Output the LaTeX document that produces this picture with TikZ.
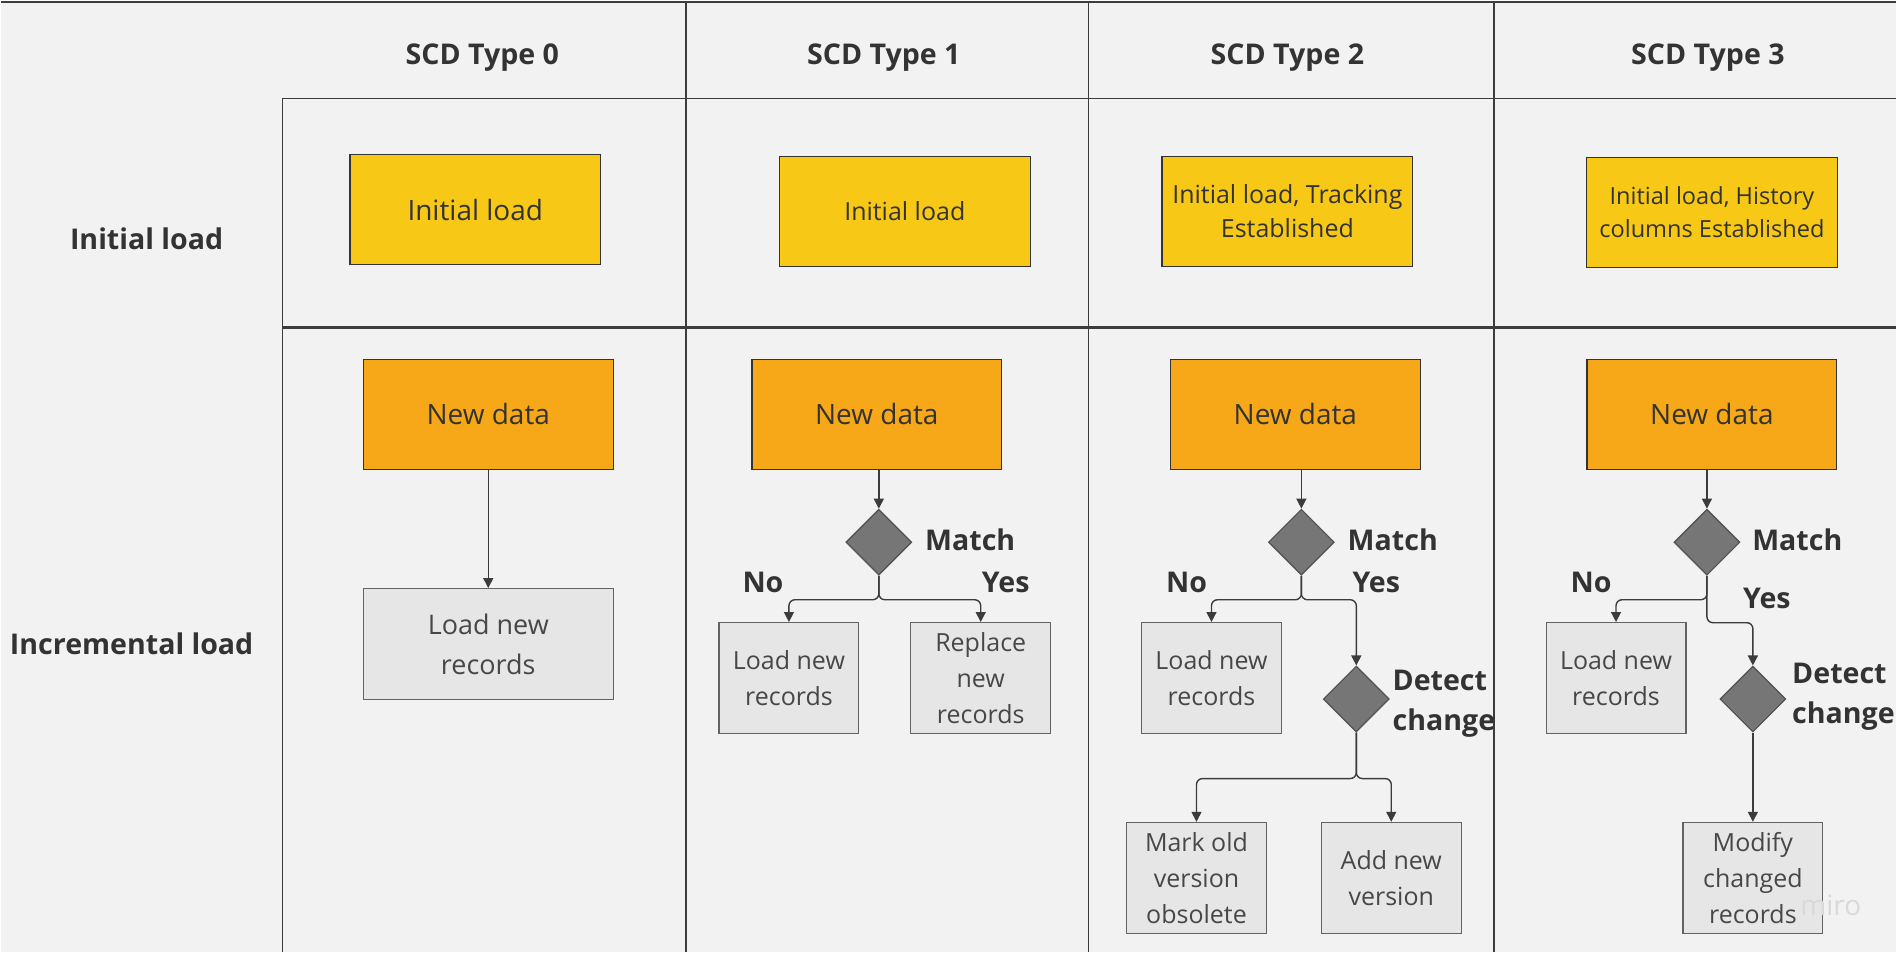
\documentclass[tikz,border=0pt]{standalone}
\usepackage{fontspec}
\setmainfont{Open Sans}
\usetikzlibrary{arrows.meta,shapes.geometric}
\definecolor{bg}{HTML}{F2F2F2}
\definecolor{gridline}{HTML}{3C3C3C}
\definecolor{ink}{HTML}{333333}
\definecolor{initfill}{HTML}{F8C816}
\definecolor{newfill}{HTML}{F7A818}
\definecolor{taskfill}{HTML}{E6E6E6}
\definecolor{diafill}{HTML}{767676}
\begin{document}
\begin{tikzpicture}[x=0.5pt, y=-0.5pt,
  grid/.style={draw=gridline, line width=0.8pt},
  head/.style={font=\fontsize{14.3pt}{20pt}\selectfont\bfseries, text=ink},
  initbox/.style={draw=ink, line width=0.6pt, fill=initfill, minimum width=125.5pt, minimum height=55pt, inner sep=1pt, align=center, text=ink, font=\fontsize{12.5pt}{17pt}\selectfont},
  newbox/.style={draw=ink, line width=0.6pt, fill=newfill, minimum width=125pt, minimum height=55pt, text=ink, font=\fontsize{14pt}{19pt}\selectfont},
  taskbox/.style={draw=gridline!80, line width=0.6pt, fill=taskfill, minimum width=70pt, minimum height=55.5pt, inner sep=1pt, align=center, text=ink!90, font=\fontsize{12.5pt}{18pt}\selectfont},
  decision/.style={diamond, draw=gridline!90, line width=0.6pt, fill=diafill, minimum width=33pt, minimum height=33pt, inner sep=0pt},
  lbl/.style={head, inner sep=0pt, align=left},
  flow/.style={draw=gridline, line width=0.7pt, rounded corners=3pt, -{Triangle[length=5pt, width=5pt]}}]

\path[fill=bg] (0,0) rectangle (1897,952);

% table
\draw[grid] (0,1) -- (1897,1);
\draw[grid] (282,98) -- (1897,98);
\draw[grid, line width=1.3pt] (282,327) -- (1897,327);
\draw[grid] (282,98) -- (282,952);
\foreach \x in {686,1089,1495}
  \draw[grid] (\x,0) -- (\x,952);

\node[head] (h0) at (482,57) {SCD Type 0};
\node[head] (h1) at (884,57) {SCD Type 1};
\node[head] (h2) at (1288,57) {SCD Type 2};
\node[head] (h3) at (1709,57) {SCD Type 3};
\node[head] (rowinit) at (146,238) {Initial load};
\node[head] (rowinc) at (131,644) {Incremental load};

% initial load
\node[initbox, font=\fontsize{14pt}{19pt}\selectfont] (i0) at (475,209) {Initial load};
\node[initbox] (i1) at (905,211) {Initial load};
\node[initbox] (i2) at (1288,211) {Initial load, Tracking\\Established};
\node[initbox, font=\fontsize{11.8pt}{16.5pt}\selectfont] (i3) at (1713,212) {Initial load, History\\columns Established};

% new data
\node[newbox] (n0) at (488,414) {New data};
\node[newbox] (n1) at (877,414) {New data};
\node[newbox] (n2) at (1296,414) {New data};
\node[newbox] (n3) at (1713,414) {New data};

% type 0
\node[taskbox, minimum width=125pt, font=\fontsize{13.5pt}{20pt}\selectfont] (l0) at (488,644) {Load new\\records};
\draw[flow] (n0) -- (l0);

% type 1
\node[decision] (d1) at (879,542) {};
\node[lbl, anchor=west] (m1) at (925,540) {Match};
\node[lbl] (no1) at (763,582) {No};
\node[lbl] (yes1) at (1006,582) {Yes};
\node[taskbox] (l1) at (789,678) {Load new\\records};
\node[taskbox] (r1) at (981,678) {Replace\\new\\records};
\draw[flow] (n1.south -| d1.north) -- (d1.north);
\draw[flow] (d1.south) -- ++(0,24) -| (l1.north);
\draw[flow] (d1.south) -- ++(0,24) -| (r1.north);

% type 2
\node[decision] (d2) at (1302,542) {};
\node[lbl, anchor=west] (m2) at (1348,540) {Match};
\node[lbl] (no2) at (1187,582) {No};
\node[lbl] (yes2) at (1377,582) {Yes};
\node[taskbox] (l2) at (1212,678) {Load new\\records};
\node[decision] (c2) at (1357,699) {};
\node[lbl, anchor=west] (dc2) at (1393,704) {Detect\\change};
\node[taskbox] (o2) at (1197,878) {Mark old\\version\\obsolete};
\node[taskbox] (a2) at (1392,878) {Add new\\version};
\draw[flow] (n2.south -| d2.north) -- (d2.north);
\draw[flow] (d2.south) -- ++(0,24) -| (l2.north);
\draw[flow] (d2.south) -- ++(0,24) -| (c2.north);
\draw[flow] (c2.south) -- ++(0,46) -| (o2.north);
\draw[flow] (c2.south) -- ++(0,46) -| (a2.north);

% type 3
\node[decision] (d3) at (1708,542) {};
\node[lbl, anchor=west] (m3) at (1753,540) {Match};
\node[lbl] (no3) at (1592,582) {No};
\node[lbl] (yes3) at (1768,598) {Yes};
\node[taskbox] (l3) at (1617,678) {Load new\\records};
\node[decision] (c3) at (1754,699) {};
\node[lbl, anchor=west] (dc3) at (1793,697) {Detect\\change};
\node[taskbox] (mo3) at (1754,878) {Modify\\changed\\records};
\draw[flow] (n3.south -| d3.north) -- (d3.north);
\draw[flow] (d3.south) -- ++(0,24) -| (l3.north);
\draw[flow] (d3.south) -- ++(0,47) -| (c3.north);
\draw[flow] (c3) -- (mo3);

\node[text=black!15, font=\fontsize{14pt}{16pt}\selectfont] (miro) at (1832,906) {miro};
\end{tikzpicture}
\end{document}
